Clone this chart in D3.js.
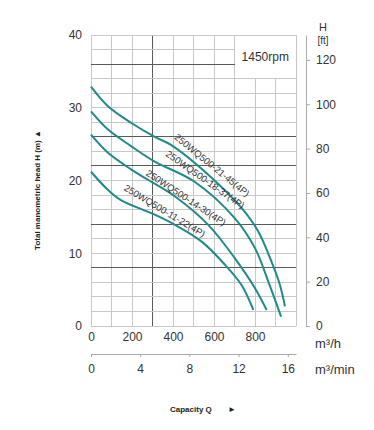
<!DOCTYPE html>
<html>
<head>
<meta charset="utf-8">
<script src="https://cdn.jsdelivr.net/npm/d3@7"></script>
<style>
  body { margin: 0; background: #fff; }
  svg { font-family: "Liberation Sans", Arial, sans-serif; }
</style>
</head>
<body>
<div id="chart"></div>
<script>
const width = 374, height = 430;

// pump curves, Q in m3/h, H in m
const seriesNames = ["250WQ500-21-45(4P)", "250WQ500-18-37(4P)", "250WQ500-14-30(4P)", "250WQ500-11-22(4P)"];
const q1 = [0, 83, 197, 311, 390, 572, 735, 816, 881, 922, 946];
const h1 = [32.9, 30.2, 27.9, 26.0, 24.9, 20.8, 16.2, 13.0, 8.8, 5.6, 2.7];
const q2 = [0, 83, 197, 311, 507, 702, 800, 865, 927];
const h2 = [29.5, 27.0, 24.7, 22.6, 19.8, 14.8, 10.7, 6.1, 1.3];
const q3 = [0, 83, 197, 278, 410, 572, 702, 800, 857];
const h3 = [26.3, 23.8, 21.5, 20.1, 17.8, 13.9, 9.3, 5.2, 2.2];
const q4 = [0, 83, 146, 311, 410, 540, 654, 735, 792];
const h4 = [21.2, 18.7, 17.3, 15.3, 13.9, 11.6, 8.4, 5.6, 2.2];

// label anchors (Q, H on the baseline centre) and angle
const labelQ = [582, 549, 456, 352];
const labelH = [21.8, 19.8, 17.3, 15.5];
const labelAngle = [39, 35, 33.5, 31];

const headTicks = [0, 10, 20, 30, 40];
const ftTicks = [0, 20, 40, 60, 80, 100, 120];
const flowTicks = [0, 200, 400, 600, 800];
const minTicks = [0, 4, 8, 12, 16];
const darkH = [36, 26, 22, 14, 8];
const darkQ = [300];

const svg = d3.select("#chart").append("svg")
    .attr("width", width)
    .attr("height", height)

const x = d3.scaleLinear().domain([0, 1000]).range([91, 296]);
const y = d3.scaleLinear().domain([0, 40]).range([326, 35]);
const yft = d3.scaleLinear().domain([0, 40 * 3.28084]).range([326, 35]);
const xmin = d3.scaleLinear().domain([0, 1000 / 60]).range([91, 296]);

// grid, with the corner left open for the speed note
const grid = svg.append("g");
d3.range(0, 1001, 100).forEach(function(q) {
    const top = (q > 700 && q < 1000) ? 34 : 40;
    grid.append("line")
        .attr("x1", x(q)).attr("x2", x(q))
        .attr("y1", y(0)).attr("y2", y(top))
        .attr("stroke", darkQ.includes(q) ? "#5a5a5a" : "#c8c8c8")
        .attr("stroke-width", 1)
        .attr("shape-rendering", "crispEdges");
});
d3.range(0, 41, 2).forEach(function(h) {
    const right = (h > 34 && h < 40) ? 700 : 1000;
    grid.append("line")
        .attr("x1", x(0)).attr("x2", x(right))
        .attr("y1", y(h)).attr("y2", y(h))
        .attr("stroke", darkH.includes(h) ? "#5a5a5a" : "#c8c8c8")
        .attr("stroke-width", 1)
        .attr("shape-rendering", "crispEdges");
});

svg.append("text")
    .attr("x", x(850)).attr("y", y(37))
    .attr("dy", "0.35em")
    .attr("text-anchor", "middle")
    .attr("font-size", 12)
    .attr("fill", "#333")
    .text("1450rpm");

// curves
const line = d3.line()
    .x(d => x(d[0]))
    .y(d => y(d[1]))
    .curve(d3.curveCatmullRom);

const curves = [d3.zip(q1, h1), d3.zip(q2, h2), d3.zip(q3, h3), d3.zip(q4, h4)];

svg.selectAll("path.curve")
    .data(curves)
    .enter().append("path")
    .attr("class", "curve")
    .attr("d", line)
    .attr("fill", "none")
    .attr("stroke", "#20898a")
    .attr("stroke-width", 2);

svg.selectAll("text.lbl")
    .data(seriesNames)
    .enter().append("text")
    .attr("class", "lbl")
    .attr("transform", (d, i) => `translate(${x(labelQ[i])},${y(labelH[i])}) rotate(${labelAngle[i]})`)
    .attr("dy", "0.05em")
    .attr("text-anchor", "middle")
    .attr("font-size", 9.5)
    .attr("fill", "#333")
    .text(d => d);

// left axis
const leftAxis = svg.append("g")
    .attr("transform", `translate(${x(0)},0)`)
    .call(d3.axisLeft(y).tickValues(headTicks).tickSize(0).tickPadding(9));
leftAxis.select(".domain").remove();
leftAxis.selectAll("text").attr("font-size", 12).attr("fill", "#333").attr("font-family", null);

// bottom axis m3/h
const botAxis = svg.append("g")
    .attr("transform", `translate(0,${y(0)})`)
    .call(d3.axisBottom(x).tickValues(flowTicks).tickSize(0).tickPadding(6));
botAxis.select(".domain").remove();
botAxis.selectAll("text").attr("font-size", 12).attr("fill", "#333").attr("font-family", null);

// bottom axis m3/min
const minAxis = svg.append("g")
    .attr("transform", `translate(0,354)`)
    .call(d3.axisBottom(xmin).tickValues(minTicks).tickSize(3).tickSizeOuter(0).tickPadding(7));
minAxis.select(".domain").attr("stroke", "#aaa");
minAxis.selectAll(".tick line").attr("stroke", "#aaa");
minAxis.selectAll("text").attr("font-size", 12).attr("fill", "#333").attr("font-family", null);

// right axis ft
const rightAxis = svg.append("g")
    .attr("transform", `translate(306,0)`)
    .call(d3.axisRight(yft).tickValues(ftTicks).tickSize(4).tickSizeOuter(0).tickPadding(6));
rightAxis.select(".domain").attr("stroke", "#aaa");
rightAxis.selectAll(".tick line").attr("stroke", "#aaa");
rightAxis.selectAll("text").attr("font-size", 12).attr("fill", "#333").attr("font-family", null);

svg.append("text").attr("x", 323).attr("y", 31)
    .attr("text-anchor", "middle").attr("font-size", 11).attr("fill", "#333").text("H");
svg.append("text").attr("x", 323).attr("y", 44)
    .attr("text-anchor", "middle").attr("font-size", 10).attr("fill", "#333").text("[ft]");

svg.append("text").attr("x", 315).attr("y", 348)
    .attr("font-size", 13).attr("fill", "#333").text("m³/h");
svg.append("text").attr("x", 315).attr("y", 374)
    .attr("font-size", 13).attr("fill", "#333").text("m³/min");

// titles
svg.append("text")
    .attr("transform", "translate(40,190) rotate(-90)")
    .attr("text-anchor", "middle")
    .attr("font-size", 8)
    .attr("font-weight", "bold")
    .attr("fill", "#222")
    .text("Total manometric head H (m) ▲");

svg.append("text")
    .attr("x", 170).attr("y", 412)
    .attr("font-size", 8)
    .attr("font-weight", "bold")
    .attr("fill", "#222")
    .text("Capacity Q");
svg.append("text")
    .attr("x", 228).attr("y", 412)
    .attr("font-size", 8)
    .attr("fill", "#222")
    .text("►");
</script>
</body>
</html>
